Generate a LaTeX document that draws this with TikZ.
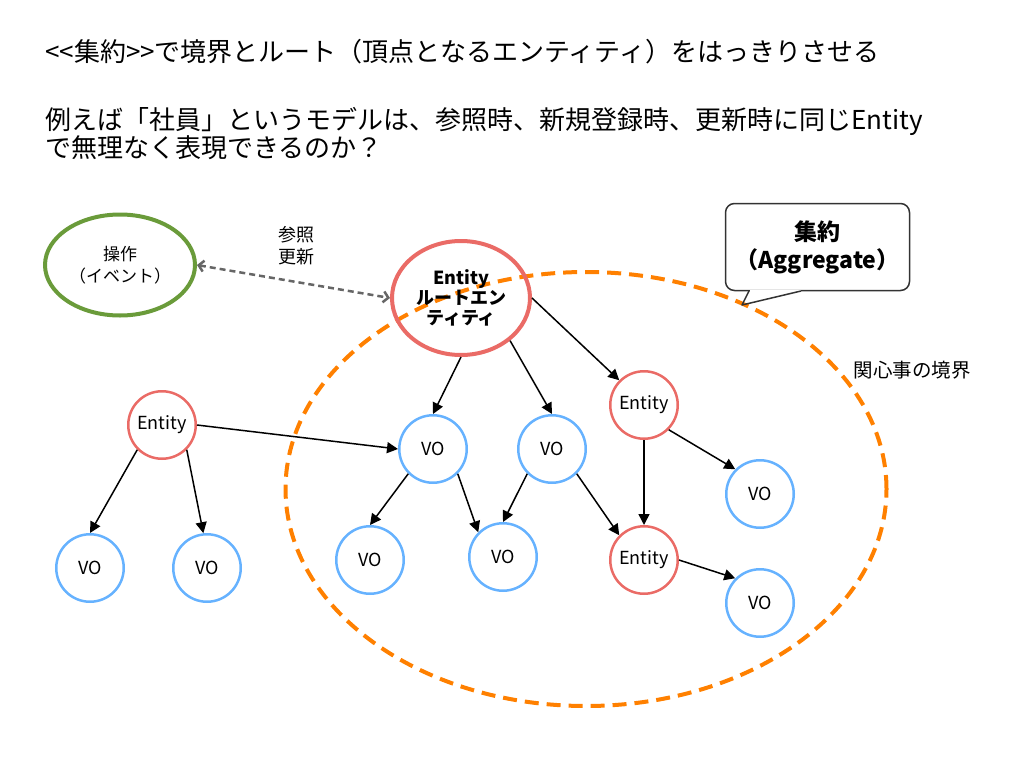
\documentclass[tikz,border=0pt]{standalone}
\usepackage{fontspec}
\setmainfont{Noto Sans CJK JP}
\usetikzlibrary{arrows.meta,shapes.geometric}
\definecolor{entred}{HTML}{EA6B66}
\definecolor{voblue}{HTML}{66B2FF}
\definecolor{opgreen}{HTML}{6A9B3A}
\definecolor{aggorange}{HTML}{FF8000}
\definecolor{refgray}{HTML}{666666}
\definecolor{callgray}{HTML}{333333}
\newcommand{\fsz}[2]{\fontsize{#1}{#2}\selectfont}
\begin{document}
\begin{tikzpicture}[x=1pt,y=-1pt,
  vonode/.style={circle,draw=voblue,line width=2.5pt,minimum size=67.5pt,inner sep=0pt,font=\fsz{18}{20}},
  entnode/.style={vonode,draw=entred},
  arr/.style={-{Triangle[length=11pt,width=11pt]},line width=1.5pt,black},
  titletext/.style={anchor=base west,inner sep=0pt,font=\fsz{26}{28}},
  plain/.style={inner sep=0pt,align=center}
]
\useasboundingbox (0,0) rectangle (1024,768);

% title texts
\node[titletext] (t1) at (45,62) {<{}<集約>{}>で境界とルート（頂点となるエンティティ）をはっきりさせる};
\node[titletext] (t2) at (45,129) {例えば「社員」というモデルは、参照時、新規登録時、更新時に同じEntity};
\node[titletext] (t3) at (45,157) {で無理なく表現できるのか？};

% aggregate boundary
\node[ellipse,draw=aggorange,line width=4pt,dash pattern=on 14pt off 8pt,
      minimum width=601pt,minimum height=434pt,inner sep=0pt] (boundary) at (586,489) {};
\node[plain,font=\fsz{19.5}{22}] (bndlabel) at (912,370) {関心事の境界};

% callout
\node[draw=callgray,line width=1.5pt,fill=white,rounded corners=9pt,
      minimum width=184pt,minimum height=87pt,inner sep=0pt,align=center,
      font=\bfseries\fsz{23}{28}] (callout) at (817.5,247) {集約\\（Aggregate）};
\fill[white] (749.5,289.5) rectangle (800.5,292.5);
\draw[callgray,line width=1.5pt,line join=round] (749,291) -- (742,305) -- (801,291);

% operation
\node[ellipse,draw=opgreen,line width=4pt,minimum width=150pt,minimum height=101pt,
      inner sep=0pt,align=center,font=\fsz{17}{22}] (op) at (120,265) {操作\\（イベント）};
\node[plain,font=\fsz{18}{22}] (oplabel) at (296,246) {参照\\更新};

% root entity
\node[ellipse,draw=entred,line width=4pt,minimum width=138pt,minimum height=114pt,
      inner sep=0pt,align=center,font=\bfseries\fsz{18}{20}] (root) at (461,298) {Entity\\ルートエン\\ティティ};

\draw[refgray,line width=2.5pt,dash pattern=on 6pt off 4pt,
      {Straight Barb[length=5pt,width=11pt]}-{Straight Barb[length=5pt,width=11pt]}] (op.east) -- (root.west);

% entities and value objects
\node[entnode] (E1) at (162,425) {Entity};
\node[vonode] (VO1) at (90,568) {VO};
\node[vonode] (VO2) at (207,568) {VO};
\node[vonode] (VOa) at (433,449) {VO};
\node[vonode] (VOb) at (552,449) {VO};
\node[entnode] (E2) at (644,405) {Entity};
\node[vonode] (VO3) at (370,560) {VO};
\node[vonode] (VO4) at (503,557) {VO};
\node[entnode] (E3) at (644,560) {Entity};
\node[vonode] (VO5) at (760,494) {VO};
\node[vonode] (VO6) at (760,603) {VO};

\draw[arr] (root.south) -- (VOa.north);
\draw[arr] (root.-41) -- (VOb.north);
\draw[arr] (root.east) -- (E2.135);
\draw[arr] (E1.east) -- (VOa.west);
\draw[arr] (E1.-135) -- (VO1.north);
\draw[arr] (E1.-45) -- (VO2.96);
\draw[arr] (VOa.-135) -- (VO3.north);
\draw[arr] (VOa.-45) -- (VO4.135);
\draw[arr] (VOb.-135) -- (VO4.north);
\draw[arr] (VOb.-45) -- (E3.135);
\draw[arr] (E2.south) -- (E3.north);
\draw[arr] (E2.-45) -- (VO5.135);
\draw[arr] (E3.east) -- (VO6.135);
\end{tikzpicture}
\end{document}
